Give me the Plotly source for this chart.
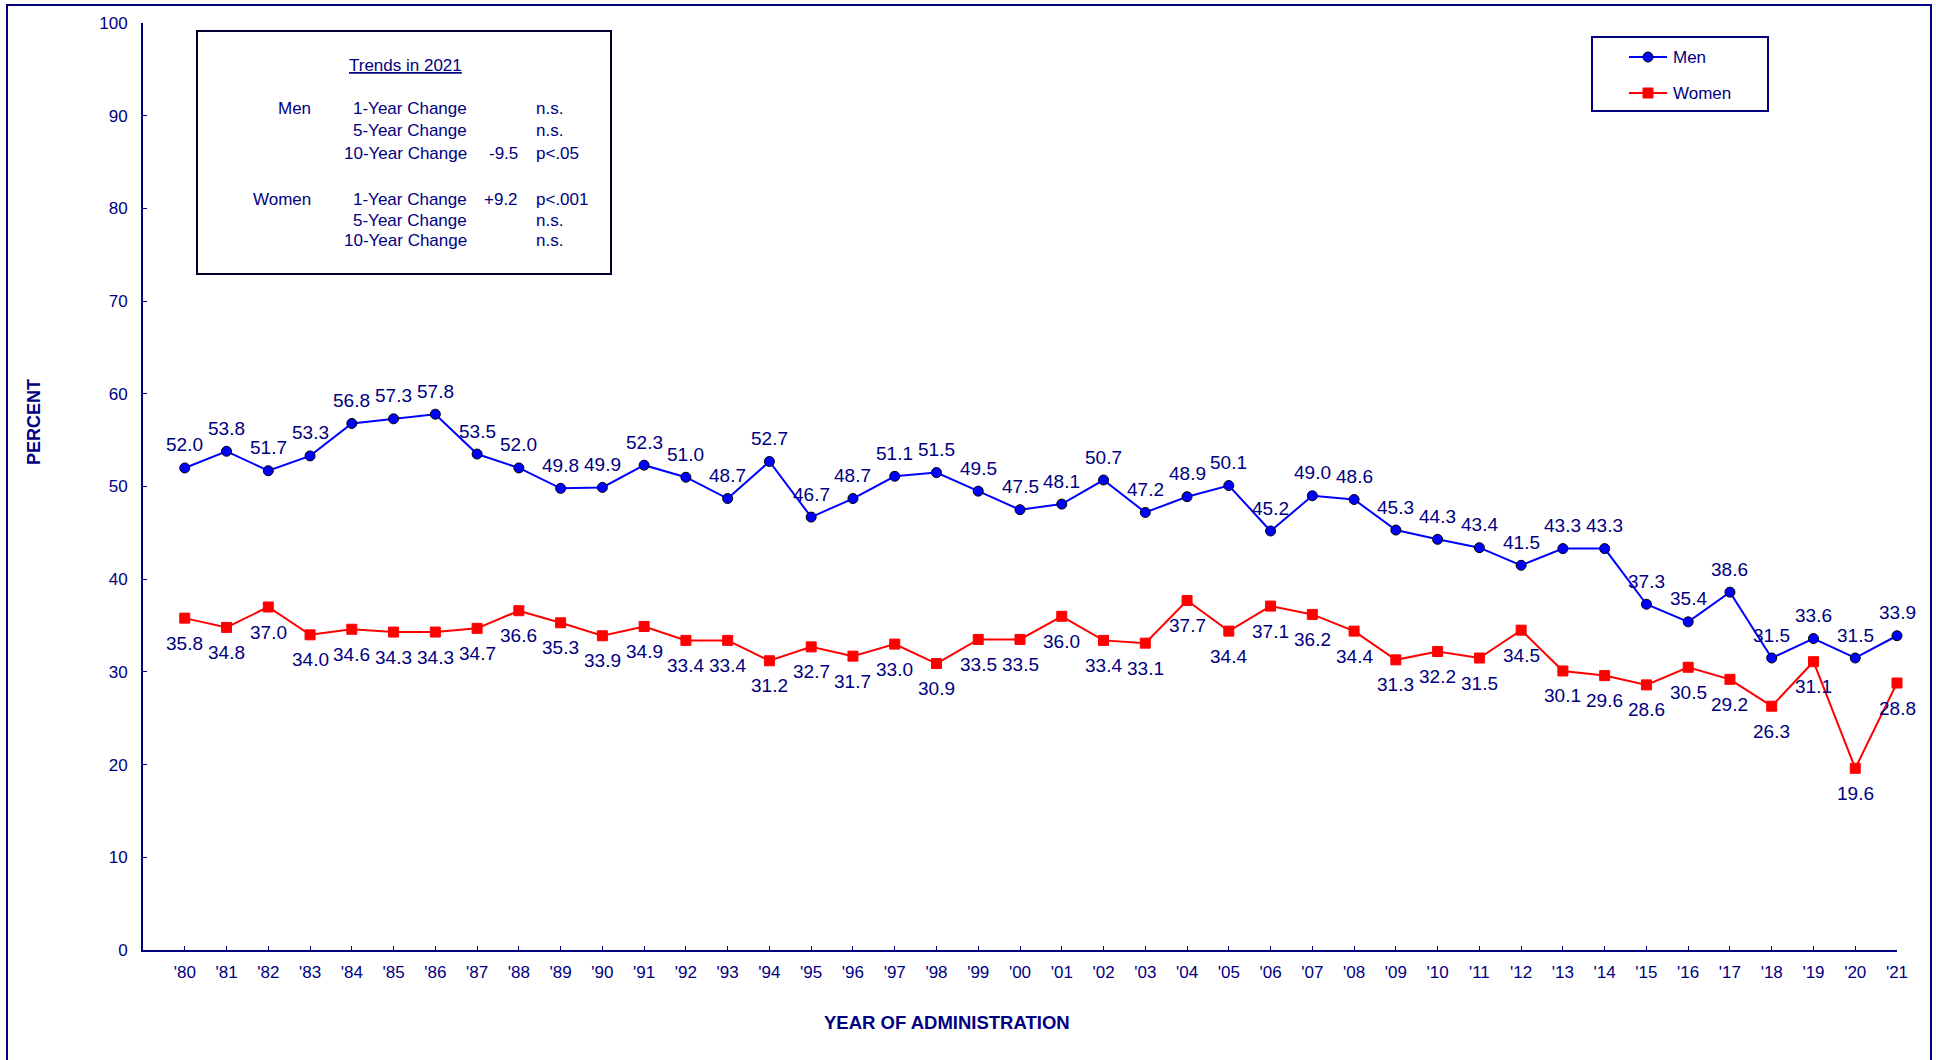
import plotly.graph_objects as go

# ---- data -------------------------------------------------------------
years = ["'80", "'81", "'82", "'83", "'84", "'85", "'86", "'87", "'88", "'89",
         "'90", "'91", "'92", "'93", "'94", "'95", "'96", "'97", "'98", "'99",
         "'00", "'01", "'02", "'03", "'04", "'05", "'06", "'07", "'08", "'09",
         "'10", "'11", "'12", "'13", "'14", "'15", "'16", "'17", "'18", "'19",
         "'20", "'21"]

men = [52.0, 53.8, 51.7, 53.3, 56.8, 57.3, 57.8, 53.5, 52.0, 49.8,
       49.9, 52.3, 51.0, 48.7, 52.7, 46.7, 48.7, 51.1, 51.5, 49.5,
       47.5, 48.1, 50.7, 47.2, 48.9, 50.1, 45.2, 49.0, 48.6, 45.3,
       44.3, 43.4, 41.5, 43.3, 43.3, 37.3, 35.4, 38.6, 31.5, 33.6,
       31.5, 33.9]

women = [35.8, 34.8, 37.0, 34.0, 34.6, 34.3, 34.3, 34.7, 36.6, 35.3,
         33.9, 34.9, 33.4, 33.4, 31.2, 32.7, 31.7, 33.0, 30.9, 33.5,
         33.5, 36.0, 33.4, 33.1, 37.7, 34.4, 37.1, 36.2, 34.4, 31.3,
         32.2, 31.5, 34.5, 30.1, 29.6, 28.6, 30.5, 29.2, 26.3, 31.1,
         19.6, 28.8]

y_ticks = [0, 10, 20, 30, 40, 50, 60, 70, 80, 90, 100]

trend_title = "Trends in 2021"
trend_rows = [
    ("Men", "1-Year Change", "", "n.s."),
    ("", "5-Year Change", "", "n.s."),
    ("", "10-Year Change", "-9.5", "p<.05"),
    ("Women", "1-Year Change", "+9.2", "p<.001"),
    ("", "5-Year Change", "", "n.s."),
    ("", "10-Year Change", "", "n.s."),
]

# ---- styling ----------------------------------------------------------
NAVY = "#000080"
FONT = "Liberation Sans, Arial, sans-serif"
FW, FH = 1936, 1060
L, R, T, B = 143, 1897, 23, 950  # plot-area edges in pixels
PW, PH = R - L, B - T


def px(x):
    return (x - L) / PW


def py(y):
    return (B - y) / PH


fig = go.Figure()

fig.add_trace(go.Scatter(
    x=years, y=men, name="Men", mode="lines+markers",
    line=dict(color="#0000FF", width=2),
    marker=dict(symbol="circle", size=10, color="#0000FF",
                line=dict(color="#000000", width=1)),
    cliponaxis=False, showlegend=False,
))
fig.add_trace(go.Scatter(
    x=years, y=women, name="Women", mode="lines+markers",
    line=dict(color="#FF0000", width=2),
    marker=dict(symbol="square", size=10, color="#FF0000",
                line=dict(color="#FF0000", width=1)),
    cliponaxis=False, showlegend=False,
))

annotations = []
lfont = dict(family=FONT, size=19, color=NAVY)
# value labels: men above, women below
for yr, v in zip(years, men):
    annotations.append(dict(x=yr, y=v, xref="x", yref="y", text=f"{v:.1f}",
                            showarrow=False, yshift=23, font=lfont))
for yr, v in zip(years, women):
    annotations.append(dict(x=yr, y=v, xref="x", yref="y", text=f"{v:.1f}",
                            showarrow=False, yshift=-25, font=lfont))

# trends box text
tfont = dict(family=FONT, size=17, color=NAVY)
annotations.append(dict(x=px(405), y=py(65), xref="paper", yref="paper",
                        text=f"<u>{trend_title}</u>", showarrow=False,
                        xanchor="center", yanchor="middle", font=tfont))
row_y = [109, 131, 153, 199, 220, 241]
for (grp, label, change, sig), yy in zip(trend_rows, row_y):
    if grp:
        annotations.append(dict(x=px(313), y=py(yy), xref="paper", yref="paper",
                                text=grp, showarrow=False, xanchor="right",
                                yanchor="middle", font=tfont))
    annotations.append(dict(x=px(469), y=py(yy), xref="paper", yref="paper",
                            text=label, showarrow=False, xanchor="right",
                            yanchor="middle", font=tfont))
    if change:
        annotations.append(dict(x=px(520), y=py(yy), xref="paper", yref="paper",
                                text=change, showarrow=False, xanchor="right",
                                yanchor="middle", font=tfont))
    annotations.append(dict(x=px(534), y=py(yy), xref="paper", yref="paper",
                            text=sig, showarrow=False, xanchor="left",
                            yanchor="middle", font=tfont))

# legend text
annotations.append(dict(x=px(1671), y=py(57), xref="paper", yref="paper",
                        text="Men", showarrow=False, xanchor="left",
                        yanchor="middle", font=tfont))
annotations.append(dict(x=px(1671), y=py(93), xref="paper", yref="paper",
                        text="Women", showarrow=False, xanchor="left",
                        yanchor="middle", font=tfont))

# axis titles
annotations.append(dict(x=px(947), y=py(1022), xref="paper", yref="paper",
                        text="<b>YEAR OF ADMINISTRATION</b>", showarrow=False,
                        xanchor="center", yanchor="middle",
                        font=dict(family=FONT, size=18.5, color=NAVY)))
annotations.append(dict(x=px(34), y=py(422), xref="paper", yref="paper",
                        text="<b>PERCENT</b>", showarrow=False, textangle=-90,
                        xanchor="center", yanchor="middle",
                        font=dict(family=FONT, size=18, color=NAVY)))

shapes = [
    # outer frame
    dict(type="rect", xref="paper", yref="paper",
         x0=px(7), x1=px(1931), y0=py(1075), y1=py(5),
         line=dict(color=NAVY, width=2)),
    # trends box
    dict(type="rect", xref="paper", yref="paper",
         x0=px(197), x1=px(611), y0=py(274), y1=py(31),
         line=dict(color="#000033", width=2), fillcolor="white", layer="below"),
    # legend box
    dict(type="rect", xref="paper", yref="paper",
         x0=px(1592), x1=px(1768), y0=py(111), y1=py(37),
         line=dict(color=NAVY, width=2), fillcolor="white"),
    # legend swatches
    dict(type="line", xref="paper", yref="paper",
         x0=px(1629), x1=px(1667), y0=py(57), y1=py(57),
         line=dict(color="#0000FF", width=2)),
    dict(type="circle", xref="paper", yref="paper",
         x0=px(1643), x1=px(1653), y0=py(62), y1=py(52),
         line=dict(color="#000000", width=1), fillcolor="#0000FF"),
    dict(type="line", xref="paper", yref="paper",
         x0=px(1629), x1=px(1667), y0=py(93), y1=py(93),
         line=dict(color="#FF0000", width=2)),
    dict(type="rect", xref="paper", yref="paper",
         x0=px(1643), x1=px(1653), y0=py(98), y1=py(88),
         line=dict(color="#FF0000", width=1), fillcolor="#FF0000"),
]

fig.update_layout(
    width=FW, height=FH,
    margin=dict(l=L, r=FW - R, t=T, b=FH - B, pad=0),
    paper_bgcolor="white", plot_bgcolor="white",
    font=dict(family=FONT, size=17, color=NAVY),
    showlegend=False,
    annotations=annotations,
    shapes=shapes,
    xaxis=dict(
        type="category", range=[-1, 41],
        showline=True, linecolor=NAVY, linewidth=2,
        ticks="inside", ticklen=4, tickwidth=1, tickcolor=NAVY,
        showgrid=False, zeroline=False,
        tickfont=dict(family=FONT, size=17, color=NAVY),
        ticklabelstandoff=6,
    ),
    yaxis=dict(
        range=[0, 100], tickvals=y_ticks,
        showline=True, linecolor=NAVY, linewidth=2,
        ticks="inside", ticklen=4, tickwidth=1, tickcolor=NAVY,
        showgrid=False, zeroline=False,
        tickfont=dict(family=FONT, size=17, color=NAVY),
        ticklabelstandoff=10,
    ),
)

fig.write_html("out.html")
